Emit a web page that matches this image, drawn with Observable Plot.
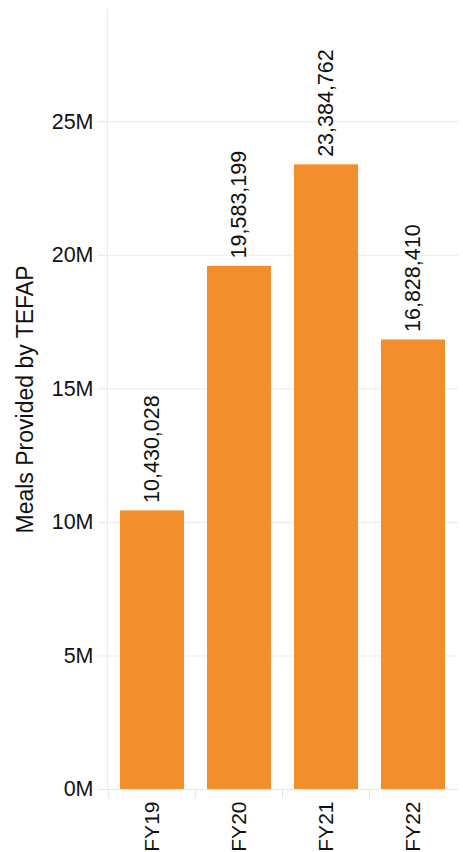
<!DOCTYPE html>
<html>
<head>
<meta charset="utf-8">
<script src="https://cdn.jsdelivr.net/npm/d3@7"></script>
<script src="https://cdn.jsdelivr.net/npm/@observablehq/plot@0.6"></script>
<style>
  html, body { margin: 0; padding: 0; background: #ffffff; }
  #chart svg { display: block; }
</style>
</head>
<body>
<div id="chart"></div>
<script>
const categories = ["FY19", "FY20", "FY21", "FY22"];
const meals = [10430028, 19583199, 23384762, 16828410];
const yTicks = [0, 5e6, 10e6, 15e6, 20e6, 25e6];
const yLabel = "Meals Provided by TEFAP";

const data = categories.map((c, i) => ({ year: c, meals: meals[i] }));
const fmt = d3.format(",");

const chart = Plot.plot({
  width: 463,
  height: 852,
  marginTop: 9,
  marginBottom: 63,
  marginLeft: 107,
  marginRight: 5,
  style: {
    fontFamily: "'Liberation Sans', Arial, sans-serif",
    fontSize: "21px",
    color: "#111111",
    background: "#ffffff"
  },
  x: { domain: categories, paddingInner: 0.26, paddingOuter: 0.13 },
  y: { domain: [0, 29.2e6] },
  marks: [
    Plot.gridY(yTicks, { stroke: "#ebebeb", strokeOpacity: 1 }),
    Plot.frame({ anchor: "left", stroke: "#ebebeb" }),
    Plot.barY(data, { x: "year", y: "meals", fill: "#F28E2B" }),
    Plot.ruleY([0], { stroke: "#e6e6e6" }),
    Plot.axisY(yTicks, {
      tickSize: 9,
      tickPadding: 5,
      stroke: "#e6e6e6",
      fill: "#111111",
      tickFormat: d => (d / 1e6) + "M",
      label: yLabel,
      labelAnchor: "center",
      labelArrow: "none",
      labelOffset: 91,
      fontSize: 21.5
    }),
    Plot.axisX({
      tickSize: 0,
      tickRotate: -90,
      tickPadding: 12,
      fill: "#111111",
      label: null,
      fontSize: 21
    }),
    Plot.text(data, {
      x: "year",
      y: "meals",
      text: d => fmt(d.meals),
      rotate: -90,
      textAnchor: "start",
      dy: -8,
      fontSize: 21.5,
      fill: "#111111"
    })
  ]
});

// band-boundary tick marks on the x axis, placed from the library's x scale
const xs = chart.scale("x");
const ys = chart.scale("y");
const base = ys.apply(0);
const gap = (xs.step - xs.bandwidth) / 2;
d3.select(chart).append("g")
  .attr("stroke", "#e6e6e6")
  .selectAll("line")
  .data(categories)
  .join("line")
  .attr("x1", c => xs.apply(c) - gap)
  .attr("x2", c => xs.apply(c) - gap)
  .attr("y1", base)
  .attr("y2", base + 9);

// axis title a little larger than tick labels, as in the reference
d3.select(chart).selectAll("[aria-label='y-axis label'] text, g[aria-label='y-axis label']")
  .attr("font-size", 23);

document.getElementById("chart").appendChild(chart);
</script>
</body>
</html>
